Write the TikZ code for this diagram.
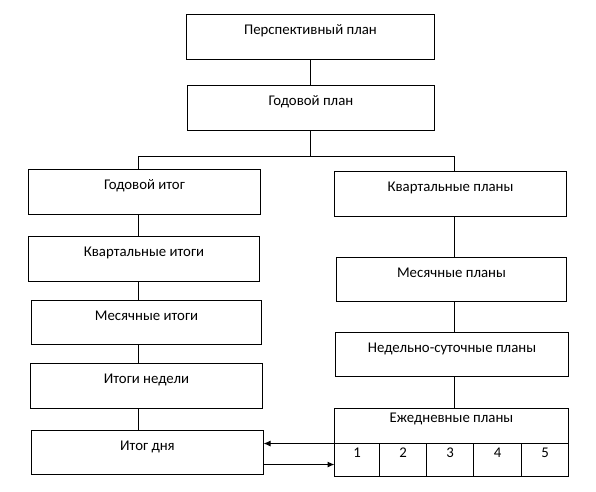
\documentclass[tikz,border=0pt]{standalone}
\usepackage{fontspec}
\setmainfont{Carlito}
\usetikzlibrary{arrows.meta}
\usetikzlibrary{positioning}
\tikzset{
    blok/.style = {draw, inner sep=0pt, outer sep=0pt, text height=20pt, text depth=25pt, minimum width=232pt},
    kletka/.style = {draw, inner sep=0pt, outer sep=0pt, text height=14pt, text depth=19pt},
    >={Latex[length=7pt, width=6pt]}
}
\begin{document}
\begin{tikzpicture}[x=1pt, y=-1pt, line width=1pt, font=\fontsize{14.8}{17}\selectfont]
                \useasboundingbox (0,0) rectangle (596,491);
                \node (0A) [blok, minimum width=248pt] at (310.5, 37) {Перспективный план};
                \node (1A) [blok, minimum width=247pt] at (311, 108) {Годовой план};
                \coordinate (M) at (310.5, 156.5);
                \coordinate (L) at (138.5, 156.5);
                \coordinate (R) at (454.5, 156.5);
                \path (0A.south -| M) edge (1A.north -| M)
                (1A.south -| M) edge (M);
                % itogi
                \node (2A) [blok] at (144.5, 192) {Годовой итог};
                \node (3A) [blok, minimum width=231pt] at (144, 259) {Квартальные итоги};
                \node (4A) [blok, minimum width=230pt, text depth=24pt] at (146.5, 322.5) {Месячные итоги};
                \node (5A) [blok] at (146.5, 386) {Итоги недели};
                \node (6A) [blok, text depth=24pt] at (147.5, 452.5) {Итог дня};
                % plany
                \node (2B) [blok] at (450.5, 194) {Квартальные планы};
                \node (3B) [blok, minimum width=230pt, text depth=24pt] at (451.5, 279.5) {Месячные планы};
                \node (4B) [blok, minimum width=233pt, text depth=24pt] at (452, 354.5) {Недельно-суточные планы};
                \node (5B) [blok, minimum width=234pt, text height=13.5pt, text depth=21.5pt] at (451.5, 426) {Ежедневные планы};
                \node (K1) [kletka, minimum width=45pt, anchor=north west] at (5B.south west) {1};
                \node (K2) [kletka, minimum width=47pt, right=0pt of K1] {2};
                \node (K3) [kletka, minimum width=47pt, right=0pt of K2] {3};
                \node (K4) [kletka, minimum width=48pt, right=0pt of K3] {4};
                \node (K5) [kletka, minimum width=47pt, right=0pt of K4] {5};
                \draw (2A.north -| L) -- (L) -- (R) -- (2B.north -| R);
                \path (2A.south -| L) edge (3A.north -| L)
                (3A.south -| L) edge (4A.north -| L)
                (4A.south -| L) edge (5A.north -| L)
                (5A.south -| L) edge (6A.north -| L);
                \path (2B.south -| R) edge (3B.north -| R)
                (3B.south -| R) edge (4B.north -| R)
                (4B.south -| R) edge (5B.north -| R);
                \draw[->] (K1.north west) -- (K1.north west -| 6A.east);
                \draw[->] ([yshift=-12pt]6A.east) -- ([yshift=-12pt]6A.east -| K1.west);
            \end{tikzpicture}
\end{document}
